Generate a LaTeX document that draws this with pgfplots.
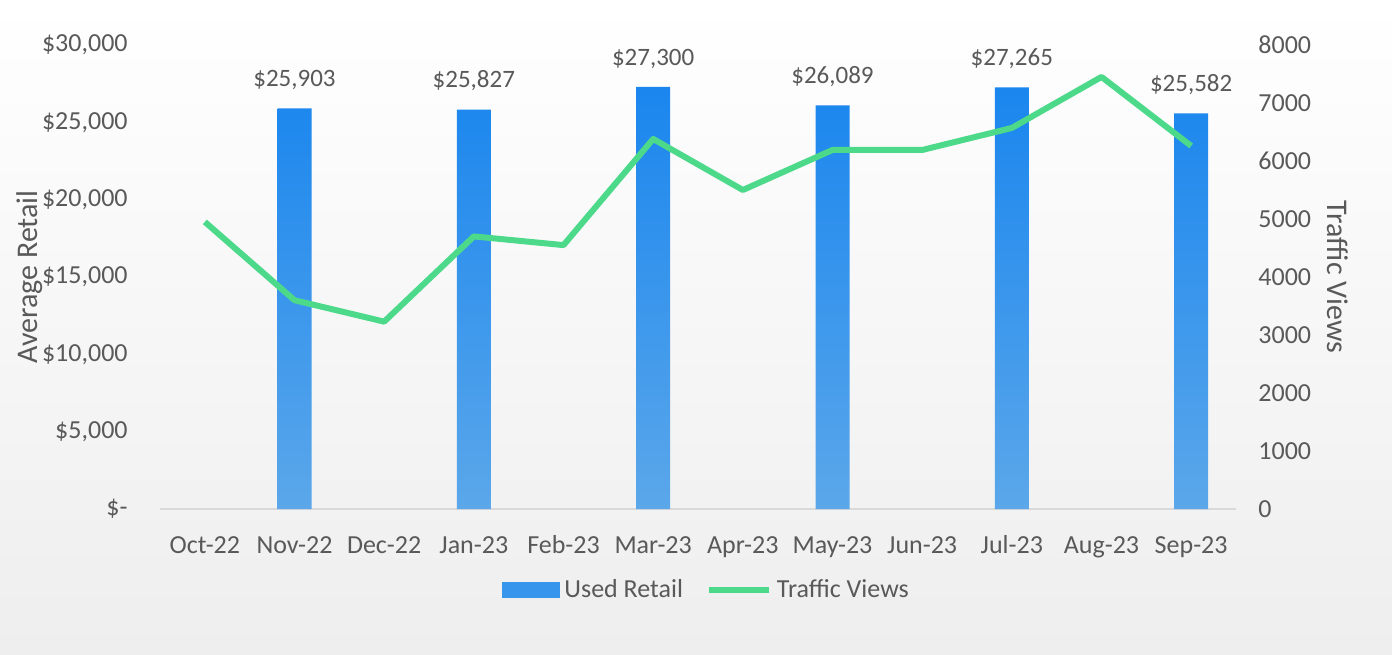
\documentclass[border=0pt]{standalone}
\usepackage{pgfplots}
\pgfplotsset{compat=1.18}
\usepackage{fontspec}
\setmainfont{Carlito}
\definecolor{txt}{HTML}{595959}
\definecolor{barTop}{HTML}{1A86EE}
\definecolor{barBot}{HTML}{5BA7EA}
\definecolor{lineG}{HTML}{4CD98A}
\definecolor{baseC}{HTML}{D9D9D9}
\definecolor{bgB}{HTML}{EEEEEE}
\begin{document}
\begin{tikzpicture}
\shade[top color=white, bottom color=bgB] (0,0) rectangle (696pt,327pt);
\begin{axis}[
  at={(80pt,72.5pt)}, anchor=south west, scale only axis, width=538pt, height=232pt,
  xmin=-0.5, xmax=11.5, ymin=0, ymax=30000,
  axis line style={draw=none}, major tick length=0pt,
  xtick={0,...,11},
  xticklabels={Oct-22,Nov-22,Dec-22,Jan-23,Feb-23,Mar-23,Apr-23,May-23,Jun-23,Jul-23,Aug-23,Sep-23},
  xtick pos=bottom, ytick pos=left,
  scaled y ticks=false,
  ytick={0,5000,10000,15000,20000,25000,30000},
  yticklabels={{\$-\hspace{5.5pt}},{\$5,000},{\$10,000},{\$15,000},{\$20,000},{\$25,000},{\$30,000}},
  ticklabel style={font=\fontsize{13}{15}\selectfont, text=txt, inner sep=0pt},
  yticklabel style={anchor=east, xshift=-16pt},
  xticklabel style={anchor=base, yshift=-22pt},
  ylabel={Average Retail},
  ylabel style={at={(axis description cs:-0.1208,0.5)}, anchor=center, font=\fontsize{15}{18}\selectfont, text=txt},
  clip=false,
  /pgf/number format/assume math mode=true,
]
\draw[baseC, line width=1pt] (axis cs:-0.5,0) -- (axis cs:11.5,0);
\addplot[ybar, bar width=17pt, draw=none, top color=barTop, bottom color=barBot,
  nodes near coords, point meta=explicit symbolic,
  every node near coord/.append style={font=\fontsize{12.5}{15}\selectfont, text=txt, inner sep=0pt, yshift=9pt}]
  coordinates {(1,25903) [\$25,903] (3,25827) [\$25,827] (5,27300) [\$27,300] (7,26089) [\$26,089] (9,27265) [\$27,265] (11,25582) [\$25,582]};
\end{axis}
\begin{axis}[
  at={(80pt,72.5pt)}, anchor=south west, scale only axis, width=538pt, height=232pt,
  xmin=-0.5, xmax=11.5, ymin=0, ymax=8000,
  axis line style={draw=none}, major tick length=0pt,
  xtick=\empty, yticklabel pos=right, ytick={0,1000,...,8000},
  scaled y ticks=false,
  /pgf/number format/set thousands separator={},
  /pgf/number format/assume math mode=true,
  ticklabel style={font=\fontsize{13}{15}\selectfont, text=txt, inner sep=0pt},
  yticklabel style={anchor=west, xshift=11pt},
  ylabel={Traffic Views},
  ylabel style={at={(axis description cs:1.0948,0.5)}, anchor=center, rotate=180, font=\fontsize{15}{18}\selectfont, text=txt},
  legend style={at={(0.509,-0.1746)}, anchor=center, draw=none, fill=none, legend columns=2,
    font=\fontsize{13}{15}\selectfont, text=txt, nodes={inner sep=2.5pt},
    /tikz/every even column/.append style={column sep=9pt}},
  clip=false,
]
\addlegendimage{legend image code/.code={\fill[barTop!55!barBot] (0pt,-3.75pt) rectangle (28.5pt,3.75pt);}}
\addlegendentry{Used Retail}
\addplot[lineG, line width=3pt, line join=round,
  legend image code/.code={\draw[lineG, line width=3pt] (0pt,0pt) -- (30pt,0pt);}]
  coordinates {(0,4950) (1,3600) (2,3230) (3,4700) (4,4550) (5,6380) (6,5500) (7,6190) (8,6190) (9,6570) (10,7450) (11,6260)};
\addlegendentry{Traffic Views}
\end{axis}
\pgfresetboundingbox
\useasboundingbox (0,0) rectangle (696pt,327pt);
\end{tikzpicture}
\end{document}
